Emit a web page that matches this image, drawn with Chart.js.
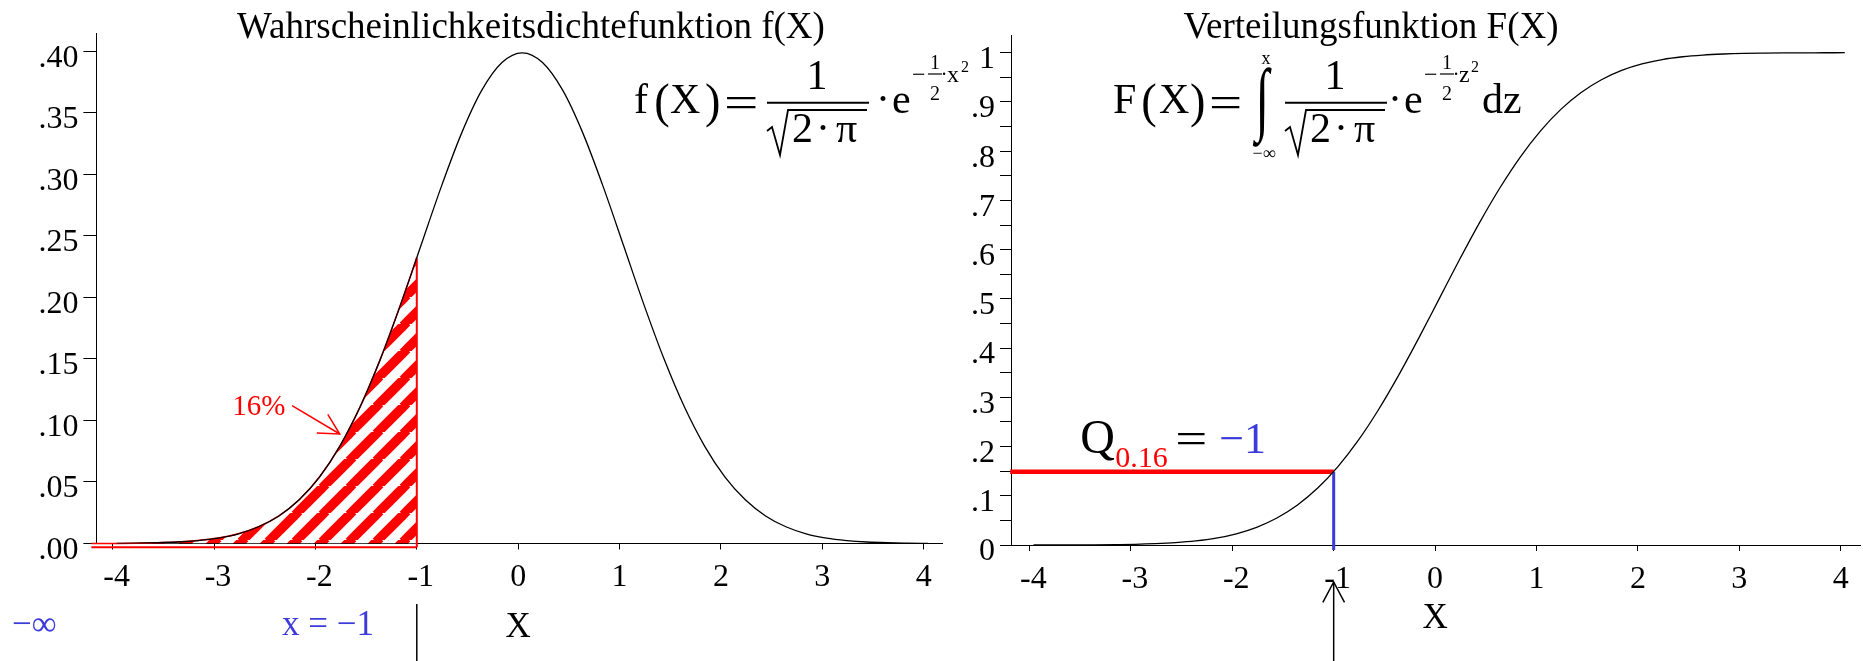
<!DOCTYPE html>
<html>
<head>
<meta charset="utf-8">
<title>Normalverteilung</title>
<script src="https://cdn.jsdelivr.net/npm/chart.js@4.4.1/dist/chart.umd.min.js"></script>
<style>
  html, body { margin: 0; padding: 0; background: #fff; }
  #wrap { position: relative; width: 1863px; height: 661px; overflow: hidden; }
  #wrap canvas { position: absolute; left: 0; top: 0; }
</style>
</head>
<body>
<div id="wrap">
  <canvas id="dichte" width="1863" height="661"></canvas>
  <canvas id="verteilung" width="1863" height="661"></canvas>
</div>
<script>
// Stützstellen der beiden Kurven (x-Werte)
const xWerte = [
  -3.96, -3.76, -3.56, -3.36, -3.16, -2.96, -2.76, -2.56, -2.36, -2.16,
  -1.96, -1.76, -1.56, -1.36, -1.16, -0.96, -0.76, -0.56, -0.36, -0.16,
  0.04, 0.24, 0.44, 0.64, 0.84, 1.04, 1.24, 1.44, 1.64, 1.84,
  2.04, 2.24, 2.44, 2.64, 2.84, 3.04, 3.24, 3.44, 3.64, 3.84, 4.04,
]

// Dichtefunktion f(X)
const dichte = [
  0.0001, 0.0003, 0.0006, 0.0012, 0.0024, 0.0044, 0.0079, 0.0136, 0.0224, 0.0355,
  0.0540, 0.0790, 0.1109, 0.1497, 0.1942, 0.2420, 0.2897, 0.3332, 0.3683, 0.3910,
  0.3989, 0.3910, 0.3683, 0.3332, 0.2897, 0.2420, 0.1942, 0.1497, 0.1109, 0.0790,
  0.0540, 0.0355, 0.0224, 0.0136, 0.0079, 0.0044, 0.0024, 0.0012, 0.0006, 0.0003, 0.0001,
]

// Verteilungsfunktion F(X)
const verteilung = [
  0.0000, 0.0001, 0.0002, 0.0003, 0.0007, 0.0013, 0.0026, 0.0047, 0.0082, 0.0139,
  0.0228, 0.0359, 0.0548, 0.0808, 0.1151, 0.1587, 0.2119, 0.2743, 0.3446, 0.4207,
  0.5000, 0.5793, 0.6554, 0.7257, 0.7881, 0.8413, 0.8849, 0.9192, 0.9452, 0.9641,
  0.9772, 0.9861, 0.9918, 0.9953, 0.9974, 0.9987, 0.9993, 0.9997, 0.9998, 0.9999, 1.0000,
]

// schraffierte Fläche bis x = -1 (16 %)
const flaecheX = [
  -4.21, -3.96, -3.76, -3.56, -3.36, -3.16, -2.96, -2.76, -2.56,
  -2.36, -2.16, -1.96, -1.76, -1.56, -1.36, -1.16, -1.0,
]
const flaecheY = [
  0, 0.0001, 0.0003, 0.0006, 0.0012, 0.0024, 0.0044, 0.0079, 0.0136,
  0.0224, 0.0355, 0.0540, 0.0790, 0.1109, 0.1497, 0.1942, 0.2323,
]

// Achsenbeschriftung
const xTicks = [-4, -3, -2, -1, 0, 1, 2, 3, 4]
const xTickLabels = ["-4", "-3", "-2", "-1", "0", "1", "2", "3", "4"]
const dichteTicks = [0, 0.05, 0.1, 0.15, 0.2, 0.25, 0.3, 0.35, 0.4]
const dichteTickLabels = [".00", ".05", ".10", ".15", ".20", ".25", ".30", ".35", ".40"]
const verteilungTicks = [
  0, 0.05, 0.1, 0.15, 0.2, 0.25, 0.3, 0.35, 0.4, 0.45, 0.5,
  0.55, 0.6, 0.65, 0.7, 0.75, 0.8, 0.85, 0.9, 0.95, 1,
]
const verteilungTickLabels = [
  "0", "", ".1", "", ".2", "", ".3", "", ".4", "", ".5",
  "", ".6", "", ".7", "", ".8", "", ".9", "", "1",
]

// Quantil Q(0.16) = -1
const quantilX = -1
const quantilP = 0.149
const flaecheUnten = -0.003

const SCHRIFT = "'Liberation Serif', 'Times New Roman', serif"
const ROT = "#ff0000"
const BLAU = "#3b3bdc"

const punkte = (xs, ys) => xs.map((x, i) => ({ x, y: ys[i] }))

// Schraffur: rote Diagonalstreifen
function schraffurMuster() {
  const P = 27
  const c = document.createElement("canvas")
  c.width = P
  c.height = P
  const g = c.getContext("2d")
  g.fillStyle = "#fff"
  g.fillRect(0, 0, P, P)
  g.strokeStyle = ROT
  g.lineWidth = 9.5
  for (const k of [0, P, 2 * P]) {
    g.beginPath()
    g.moveTo(k - P - 2, P + 2)
    g.lineTo(k + 2, -2)
    g.stroke()
  }
  return g.createPattern(c, "repeat")
}

// --- Zeichenhilfen ---
function text(ctx, s, x, y, size, farbe, align) {
  ctx.font = size + "px " + SCHRIFT
  ctx.fillStyle = farbe || "#000"
  ctx.textAlign = align || "left"
  ctx.textBaseline = "alphabetic"
  ctx.fillText(s, x, y)
}

// Zeichen so skalieren, dass es genau in das Rechteck passt (Klammern, =, Integral)
function zeichenImKasten(ctx, s, size, x1, y1, x2, y2, farbe) {
  ctx.save()
  ctx.font = size + "px " + SCHRIFT
  ctx.fillStyle = farbe || "#000"
  ctx.textAlign = "left"
  ctx.textBaseline = "alphabetic"
  const m = ctx.measureText(s)
  const w = m.actualBoundingBoxLeft + m.actualBoundingBoxRight
  const h = m.actualBoundingBoxAscent + m.actualBoundingBoxDescent
  ctx.translate(x1, y1)
  ctx.scale((x2 - x1) / w, (y2 - y1) / h)
  ctx.fillText(s, m.actualBoundingBoxLeft, m.actualBoundingBoxAscent)
  ctx.restore()
}

function strich(ctx, pts, farbe, breite) {
  ctx.strokeStyle = farbe || "#000"
  ctx.lineWidth = breite || 1.5
  ctx.beginPath()
  pts.forEach(([x, y], i) => (i ? ctx.lineTo(x, y) : ctx.moveTo(x, y)))
  ctx.stroke()
}

function pfeil(ctx, x1, y1, x2, y2, farbe) {
  const len = 23
  const w = 0.49
  const a = Math.atan2(y2 - y1, x2 - x1)
  strich(ctx, [[x1, y1], [x2, y2]], farbe, 1.5)
  strich(ctx, [
    [x2 - len * Math.cos(a - w), y2 - len * Math.sin(a - w)],
    [x2, y2],
    [x2 - len * Math.cos(a + w), y2 - len * Math.sin(a + w)],
  ], farbe, 1.5)
}

// 1 / sqrt(2*pi), Bruchstrich beginnt bei x0
function bruch(ctx, x0) {
  strich(ctx, [[x0, 102.8], [x0 + 102, 102.8]], "#000", 2)
  text(ctx, "1", x0 + 50, 89, 42, "#000", "center")
  strich(ctx, [[x0, 131], [x0 + 5, 127], [x0 + 13, 155], [x0 + 21, 110], [x0 + 100, 110]], "#000", 1.8)
  text(ctx, "2", x0 + 25, 142, 42)
  text(ctx, "·", x0 + 56, 142, 42, "#000", "center")
  text(ctx, "π", x0 + 69, 142, 42)
}

// e hoch -1/2 * v^2, x0 = Malpunkt vor dem e
function exponent(ctx, x0, v, dx) {
  text(ctx, "·", x0, 113, 42, "#000", "center")
  text(ctx, "e", x0 + 9, 113, 42)
  text(ctx, "−", x0 + 29, 82, 24)
  text(ctx, "1", x0 + 52, 69, 20, "#000", "center")
  strich(ctx, [[x0 + 45, 74], [x0 + 59, 74]], "#000", 1.2)
  text(ctx, "2", x0 + 52, 100, 20, "#000", "center")
  text(ctx, "·", x0 + 61, 81, 20, "#000", "center")
  text(ctx, v, x0 + 64, 82, 24)
  text(ctx, "2", x0 + 64 + dx, 72, 16)
}

function dichteFormel(ctx) {
  text(ctx, "f", 634, 113, 42)
  zeichenImKasten(ctx, "(", 50, 656, 82, 669, 128)
  text(ctx, "X", 670, 113, 42)
  zeichenImKasten(ctx, ")", 50, 706, 82, 719, 128)
  zeichenImKasten(ctx, "=", 40, 727, 96, 756, 108)
  bruch(ctx, 767)
  exponent(ctx, 883, "x", 14)
}

function verteilungFormel(ctx) {
  text(ctx, "F", 1113, 113, 42)
  zeichenImKasten(ctx, "(", 50, 1143, 82, 1156, 128)
  text(ctx, "X", 1159, 113, 42)
  zeichenImKasten(ctx, ")", 50, 1191, 82, 1204, 128)
  zeichenImKasten(ctx, "=", 40, 1212, 96, 1240, 108)
  zeichenImKasten(ctx, "∫", 60, 1253, 67, 1272, 148)
  text(ctx, "x", 1266, 64, 18, "#000", "center")
  text(ctx, "−∞", 1264, 159, 18, "#000", "center")
  bruch(ctx, 1285)
  exponent(ctx, 1395, "z", 12)
  text(ctx, "dz", 1482, 113, 42)
}

// Beschriftungen links: Titel, Formel, 16 %, Integrationsgrenzen
const dichteBeschriftung = {
  id: "dichteBeschriftung",
  afterDraw(chart) {
    const ctx = chart.ctx
    const sx = chart.scales.x
    const sy = chart.scales.y
    ctx.save()
    text(ctx, "Wahrscheinlichkeitsdichtefunktion f(X)", 531, 38, 37, "#000", "center")
    dichteFormel(ctx)

    text(ctx, "16%", sx.getPixelForValue(-2.82), sy.getPixelForValue(0.1046), 29, ROT)
    pfeil(ctx, sx.getPixelForValue(-2.23), sy.getPixelForValue(0.112),
      sx.getPixelForValue(-1.76), sy.getPixelForValue(0.089), ROT)

    text(ctx, "−∞", 12, 635, 35, BLAU)
    text(ctx, "x = −1", 282, 635, 35, BLAU)
    const xg = sx.getPixelForValue(quantilX)
    strich(ctx, [[xg, 604], [xg, 661]], "#000", 1.5)
    text(ctx, "X", sx.getPixelForValue(0), 637, 35, "#000", "center")
    ctx.restore()
  },
}

// Beschriftungen rechts: Titel, Formel, Quantil
const verteilungBeschriftung = {
  id: "verteilungBeschriftung",
  afterDraw(chart) {
    const ctx = chart.ctx
    const sx = chart.scales.x
    const sy = chart.scales.y
    ctx.save()
    text(ctx, "Verteilungsfunktion F(X)", 1371, 38, 37, "#000", "center")
    verteilungFormel(ctx)

    const yq = sy.getPixelForValue(quantilP)
    const xq = sx.getPixelForValue(-3.5)
    text(ctx, "Q", xq, yq - 19, 48)
    text(ctx, "0.16", xq + 35, yq - 5, 30, ROT)
    zeichenImKasten(ctx, "=", 40, xq + 98, yq - 39, xq + 125, yq - 27)
    text(ctx, "−1", xq + 139, yq - 19, 44, BLAU)

    const xp = sx.getPixelForValue(quantilX)
    pfeil(ctx, xp, 661, xp, 582, "#000")
    text(ctx, "X", sx.getPixelForValue(0), 628, 35, "#000", "center")
    ctx.restore()
  },
}

function xAchse(min, max) {
  return {
    type: "linear",
    min,
    max,
    afterBuildTicks: (s) => { s.ticks = xTicks.map((v) => ({ value: v })) },
    afterFit: (s) => { s.height = 50 },
    grid: { drawOnChartArea: false, drawTicks: true, tickLength: 6, color: "#000", lineWidth: 1 },
    border: { display: true, color: "#000", width: 1 },
    ticks: {
      color: "#000",
      font: { family: SCHRIFT, size: 32 },
      padding: 9,
      maxRotation: 0,
      autoSkip: false,
      // Ziffer unter dem Strich zentrieren, Minus steht links davor
      callback: (v, i) => (xTicks[i] < 0 ? " " + xTickLabels[i] : xTickLabels[i]),
    },
  }
}

function yAchse(max, werte, labels, tickLen) {
  return {
    type: "linear",
    min: 0,
    max,
    afterBuildTicks: (s) => { s.ticks = werte.map((v) => ({ value: v })) },
    afterFit: (s) => { s.width = 60 },
    grid: { drawOnChartArea: false, drawTicks: true, tickLength: tickLen, color: "#000", lineWidth: 1 },
    border: { display: true, color: "#000", width: 1 },
    ticks: {
      color: "#000",
      font: { family: SCHRIFT, size: 32 },
      padding: 5,
      labelOffset: 7,
      autoSkip: false,
      callback: (v, i) => labels[i],
    },
  }
}

const grundOptionen = {
  responsive: false,
  devicePixelRatio: 1,
  animation: false,
  events: [],
  plugins: { legend: { display: false }, tooltip: { enabled: false } },
  elements: { point: { radius: 0 } },
}

// --- Diagramm 1: Dichtefunktion ---
new Chart(document.getElementById("dichte"), {
  type: "line",
  data: {
    datasets: [
      {
        data: punkte(xWerte, dichte),
        borderColor: "#000",
        borderWidth: 1.3,
        cubicInterpolationMode: "monotone",
        fill: false,
      },
      {
        data: [{ x: quantilX, y: flaecheY[flaecheY.length - 1] }, { x: quantilX, y: flaecheUnten }],
        borderColor: ROT,
        borderWidth: 2,
        fill: false,
        clip: false,
      },
      {
        data: [{ x: flaecheX[0], y: flaecheUnten }, { x: quantilX, y: flaecheUnten }],
        borderColor: ROT,
        borderWidth: 2,
        fill: false,
        clip: false,
      },
      {
        data: punkte(flaecheX, flaecheY),
        borderColor: ROT,
        borderWidth: 1.5,
        backgroundColor: schraffurMuster(),
        cubicInterpolationMode: "monotone",
        fill: { value: flaecheUnten },
        clip: false,
      },
    ],
  },
  options: {
    ...grundOptionen,
    layout: { padding: { left: 36.4, right: 921, top: 33, bottom: 67.5 } },
    scales: {
      x: xAchse(-4.16, 4.18),
      y: yAchse(0.415, dichteTicks, dichteTickLabels, 13),
    },
  },
  plugins: [dichteBeschriftung],
})

// --- Diagramm 2: Verteilungsfunktion ---
new Chart(document.getElementById("verteilung"), {
  type: "line",
  data: {
    datasets: [
      {
        data: punkte(xWerte, verteilung),
        borderColor: "#000",
        borderWidth: 1.3,
        cubicInterpolationMode: "monotone",
        fill: false,
      },
      {
        data: [{ x: quantilX, y: quantilP }, { x: quantilX, y: -0.01 }],
        borderColor: BLAU,
        borderWidth: 3,
        fill: false,
        clip: false,
      },
      {
        data: [{ x: -4.19, y: quantilP }, { x: quantilX, y: quantilP }],
        borderColor: ROT,
        borderWidth: 4.5,
        fill: false,
        clip: false,
      },
    ],
  },
  options: {
    ...grundOptionen,
    layout: { padding: { left: 951.5, right: 3, top: 35, bottom: 66 } },
    scales: {
      x: xAchse(-4.177, 4.19),
      y: yAchse(1.036, verteilungTicks, verteilungTickLabels, 11.5),
    },
  },
  plugins: [verteilungBeschriftung],
})
</script>
</body>
</html>
